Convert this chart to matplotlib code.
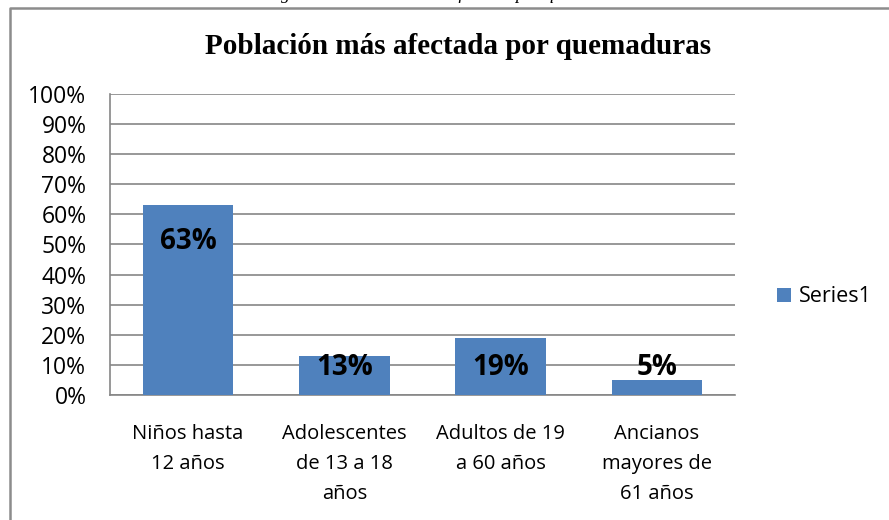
import matplotlib.pyplot as plt
from matplotlib.lines import Line2D
from matplotlib.ticker import PercentFormatter

# datos del grafico
categorias = ['Niños hasta\n12 años', 'Adolescentes\nde 13 a 18\naños',
              'Adultos de 19\na 60 años', 'Ancianos\nmayores de\n61 años']
valores = [63, 13, 19, 5]
serie = 'Series1'
titulo = 'Población más afectada por quemaduras'
leyenda_figura = 'Figura 1. Población más afectada por quemaduras'

W, H = 889, 520
fig = plt.figure(figsize=(W / 100, H / 100), dpi=100)

# marco del grafico (solo izquierda y arriba se ven)
fig.add_artist(Line2D([9.5 / W, 9.5 / W, 1.0], [0.0, 1 - 8 / H, 1 - 8 / H],
                      transform=fig.transFigure, color='#8c8c8c', lw=1.8))

# texto cortado arriba de la imagen, como en el original
fig.text(450 / W, 1 + 1 / H, leyenda_figura, ha='center', va='baseline',
         fontsize=13, fontstyle='italic', fontfamily='Liberation Serif')

# area del grafico en pixeles
left, right, top, bottom = 110, 735, 94, 395
ax = fig.add_axes([left / W, 1 - bottom / H, (right - left) / W, (bottom - top) / H])

x = range(len(categorias))
bars = ax.bar(x, valores, width=0.58, color='#4F81BD', label=serie, zorder=3)

ax.set_xlim(-0.5, len(categorias) - 0.5)
ax.set_ylim(0, 100)
ax.set_yticks(range(0, 101, 10))
ax.yaxis.set_major_formatter(PercentFormatter(decimals=0))
ax.grid(axis='y', color='#868686', lw=1.2, zorder=0)
for s in ax.spines.values():
    s.set_color('#868686')
    s.set_linewidth(1.2)
ax.spines['top'].set_visible(False)
ax.spines['right'].set_visible(False)

ax.set_xticks(list(x))
ax.set_xticklabels(categorias, fontfamily='Open Sans', fontsize=14.5, linespacing=1.65)
ax.tick_params(axis='x', length=0, pad=21)
ax.tick_params(axis='y', length=0, pad=17, labelsize=16.5)
for t in ax.get_yticklabels():
    t.set_fontfamily('Open Sans')

# etiquetas de datos
for i, v in enumerate(valores):
    ax.text(i, max(v - 12, 9.3), '%d%%' % v, ha='center', va='center',
            fontsize=20, fontweight='bold', fontfamily='Open Sans', zorder=4)

fig.text(458 / W, 1 - 47 / H, titulo, ha='center', va='center',
         fontsize=21, fontweight='bold', fontfamily='Liberation Serif')

ax.legend(loc='center left', bbox_to_anchor=(758 / W, 1 - 297 / H),
          bbox_transform=fig.transFigure, frameon=False, handlelength=0.65,
          handleheight=0.65, handletextpad=0.35,
          prop={'family': 'Open Sans', 'size': 15.5})

fig.savefig('out.png', dpi=100)
